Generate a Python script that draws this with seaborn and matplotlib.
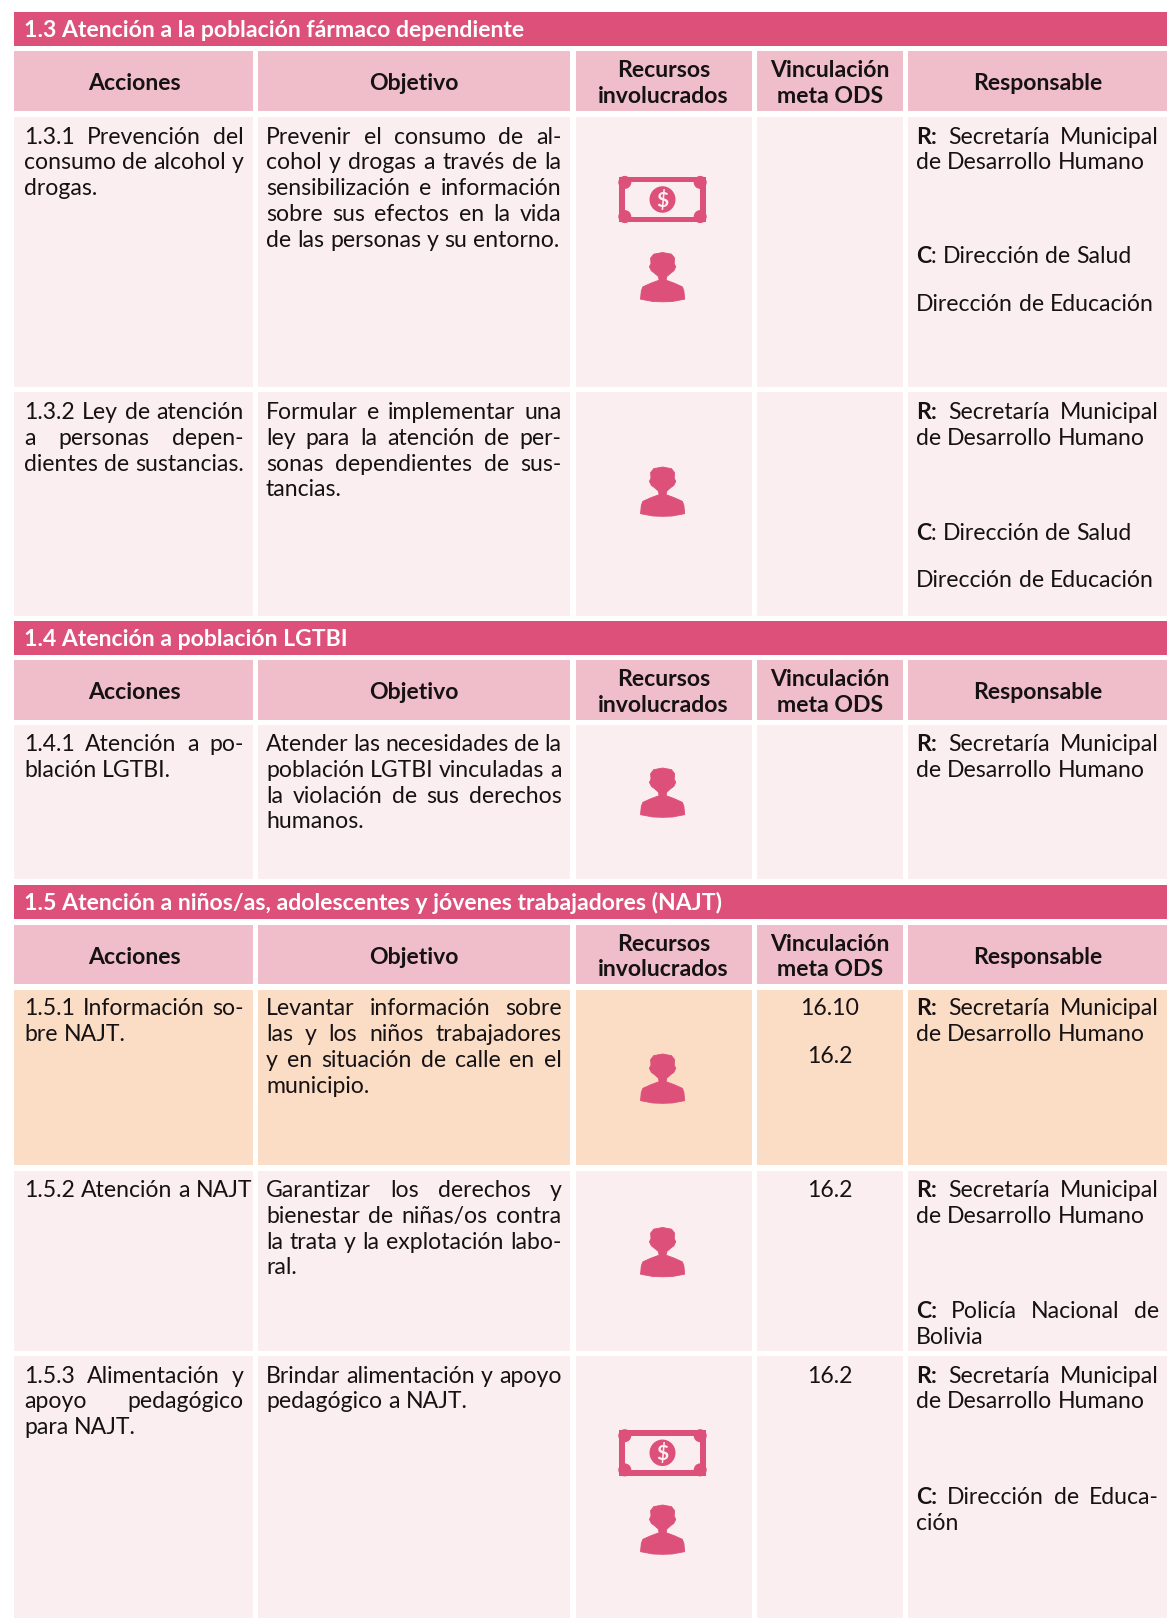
import matplotlib
matplotlib.use("Agg")
import matplotlib.pyplot as plt
import seaborn as sns
from matplotlib.patches import Rectangle, Circle, FancyBboxPatch, PathPatch, Ellipse
from matplotlib.path import Path

# ---------- content ----------
section_titles = ["1.3 Atención a la población fármaco dependiente",
                  "1.4 Atención a población LGTBI",
                  "1.5 Atención a niños/as, adolescentes y jóvenes trabajadores (NAJT)"]
column_headers = [["Acciones"], ["Objetivo"], ["Recursos", "involucrados"],
                  ["Vinculación", "meta ODS"], ["Responsable"]]
acciones = [["1.3.1 Prevención del", "consumo de alcohol y", "drogas."],
            ["1.3.2 Ley de atención", "a personas depen-", "dientes de sustancias."],
            ["1.4.1 Atención a po-", "blación LGTBI."],
            ["1.5.1 Información so-", "bre NAJT."],
            ["1.5.2 Atención a NAJT"],
            ["1.5.3 Alimentación y", "apoyo pedagógico", "para NAJT."]]
objetivos = [["Prevenir el consumo de al-", "cohol y drogas a través de la", "sensibilización e información",
              "sobre sus efectos en la vida", "de las personas y su entorno."],
             ["Formular e implementar una", "ley para la atención de per-", "sonas dependientes de sus-", "tancias."],
             ["Atender las necesidades de la", "población LGTBI vinculadas a", "la violación de sus derechos", "humanos."],
             ["Levantar información sobre", "las y los niños trabajadores", "y en situación de calle en el", "municipio."],
             ["Garantizar los derechos y", "bienestar de niñas/os contra", "la trata y la explotación labo-", "ral."],
             ["Brindar alimentación y apoyo", "pedagógico a NAJT."]]
metas_ods = [[], [], [], ["16.10", "16.2"], ["16.2"], ["16.2"]]
responsable_r = ["*R: Secretaría Municipal", "de Desarrollo Humano"]
responsable_c = [[["*C|: Dirección de Salud"], ["Dirección de Educación"]],
                 [["*C|: Dirección de Salud"], ["Dirección de Educación"]],
                 [],
                 [],
                 [["*C: Policía Nacional de", "Bolivia"]],
                 [["*C: Dirección de Educa-", "ción"]]]
recurso_dinero = [True, False, False, False, False, True]
recurso_persona = [True, True, True, True, True, True]
fila_destacada = [False, False, False, True, False, False]

# ---------- layout (pixels of the page) ----------
W, H = 1167, 1618
COLS = [(14, 252.6), (258, 570), (575.6, 751.6), (757, 903), (908, 1167)]
HEAD_CX = [134, 414, 663.5, 830, 1038]
TITLE_Y = [(12, 46), (621, 654.5), (885, 919)]
HEAD_Y = [(51.3, 111), (660, 720), (924.5, 984)]
ROW_Y = [(116.7, 387), (392, 616), (725, 879), (989.7, 1165), (1170.7, 1350.5), (1356, 1618)]
BASE1 = [143.5, 419, 751, 1015.4, 1197, 1382.7]
C_BASE = [[263.2, 310.6], [539.7, 587], [], [], [1317.7], [1503.7]]
PERSON_TOP = [252.5, 467, 768, 1054, 1227.5, 1505]
MONEY_TOP = [176.7, None, None, None, None, 1430]
LH = 25.8
TX = [(24, 243.8), (266, 561.4), None, None, (916, 1159)]

PINK = "#DC507A"
HEADC = "#F0BECA"
ROWC = "#FBEEF1"
ORANGE = "#FBDCC5"
INK = "#161214"
FS = 16.6
FAMILY = "Lato"

sns.set_theme(style="white")
plt.rcParams["font.family"] = [FAMILY, "DejaVu Sans"]
fig = plt.figure(figsize=(W / 100, H / 100), dpi=100, facecolor="white")
ax = fig.add_axes([0, 0, 1, 1])
ax.set_xlim(0, W)
ax.set_ylim(H, 0)
ax.axis("off")
sns.despine(ax=ax, left=True, bottom=True)
rend = fig.canvas.get_renderer()


def word_w(s, weight="normal", size=FS):
    t = ax.text(0, 0, s, fontsize=size, fontweight=weight)
    w = t.get_window_extent(rend).width
    t.remove()
    return w


def segs(word):
    if word.startswith("*"):
        parts = word[1:].split("|")
        return [(parts[0], "bold")] + [(p, "normal") for p in parts[1:]]
    return [(word, "normal")]


def seg_width(word):
    return sum(word_w(s, w) for s, w in segs(word))


SPACE = word_w("n n") - 2 * word_w("n")


def draw_line(line, y, x0, x1, justify):
    words = line.split(" ")
    widths = [seg_width(w) for w in words]
    gap = SPACE
    if justify and len(words) > 1:
        gap = (x1 - x0 - sum(widths)) / (len(words) - 1)
    x = x0
    for w, wd in zip(words, widths):
        xx = x
        for s, weight in segs(w):
            ax.text(xx, y, s, fontsize=FS, fontweight=weight, color=INK, va="baseline", ha="left")
            xx += word_w(s, weight)
        x += wd + gap


def draw_par(lines, y, col):
    x0, x1 = TX[col]
    for i, l in enumerate(lines):
        draw_line(l, y + i * LH, x0, x1, i < len(lines) - 1)


PERSON = [(208, 515), (210, 490), (214, 478), (235, 467), (256, 458), (254, 447), (243, 436), (236, 430),
          (231, 418), (235, 408), (234, 392), (242, 380), (265, 375), (288, 380), (296, 392), (295, 408),
          (299, 418), (294, 430), (287, 436), (276, 447), (274, 458), (295, 467), (316, 478), (320, 490),
          (322, 515), (290, 522), (265, 523), (240, 522)]


def person(top):
    pts = [(662.6 + (x - 265) / 2.583, top + (y - 375) / 3) for x, y in PERSON]
    codes = [Path.MOVETO] + [Path.LINETO] * (len(pts) - 1) + [Path.CLOSEPOLY]
    ax.add_patch(PathPatch(Path(pts + [pts[0]], codes), fc=PINK, ec=PINK, lw=0.6, joinstyle="round"))


def money(top, bg):
    x0, x1, h = 619, 706, 45.6
    ax.add_patch(Rectangle((x0, top), x1 - x0, h, fc=PINK, ec="none"))
    ax.add_patch(Rectangle((x0 + 5.8, top + 5.7), x1 - x0 - 11.6, h - 11.4, fc=bg, ec="none"))
    for cx in (x0 + 5.8, x1 - 5.8):
        for cy in (top + 5.7, top + h - 5.7):
            ax.add_patch(Circle((cx, cy), 6.5, fc=PINK, ec="none"))
    ax.add_patch(Ellipse((662.5, top + h / 2), 26, 26.5, fc=PINK, ec="none"))
    ax.text(662.5, top + h / 2 + 0.5, "$", color=bg, fontsize=15, fontweight="bold", ha="center", va="center")


# section bars and headers
for k, title in enumerate(section_titles):
    y0, y1 = TITLE_Y[k]
    ax.add_patch(Rectangle((14, y0), W - 14, y1 - y0, fc=PINK, ec="none"))
    ax.text(24.5, y0 + 25.3, title, color="white", fontsize=FS, fontweight="bold", va="baseline")
    hy0, hy1 = HEAD_Y[k]
    for c, (cx0, cx1) in enumerate(COLS):
        ax.add_patch(Rectangle((cx0, hy0), cx1 - cx0, hy1 - hy0, fc=HEADC, ec="none"))
        lines = column_headers[c]
        ys = [hy0 + 39] if len(lines) == 1 else [hy0 + 26, hy0 + 51.6]
        for l, yy in zip(lines, ys):
            ax.text(HEAD_CX[c], yy, l, color=INK, fontsize=FS, fontweight="bold", ha="center", va="baseline")

# body rows
for r, (ry0, ry1) in enumerate(ROW_Y):
    bg = ORANGE if fila_destacada[r] else ROWC
    for cx0, cx1 in COLS:
        ax.add_patch(Rectangle((cx0, ry0), cx1 - cx0, ry1 - ry0, fc=bg, ec="none"))
    draw_par(acciones[r], BASE1[r], 0)
    draw_par(objetivos[r], BASE1[r], 1)
    draw_par(responsable_r, BASE1[r], 4)
    for par, yy in zip(responsable_c[r], C_BASE[r]):
        draw_par(par, yy, 4)
    for i, m in enumerate(metas_ods[r]):
        ax.text(830, BASE1[r] + i * 47.5, m, fontsize=FS, color=INK, ha="center", va="baseline")
    if recurso_dinero[r]:
        money(MONEY_TOP[r], bg)
    if recurso_persona[r]:
        person(PERSON_TOP[r])

fig.savefig("out.png", dpi=100, facecolor="white")
